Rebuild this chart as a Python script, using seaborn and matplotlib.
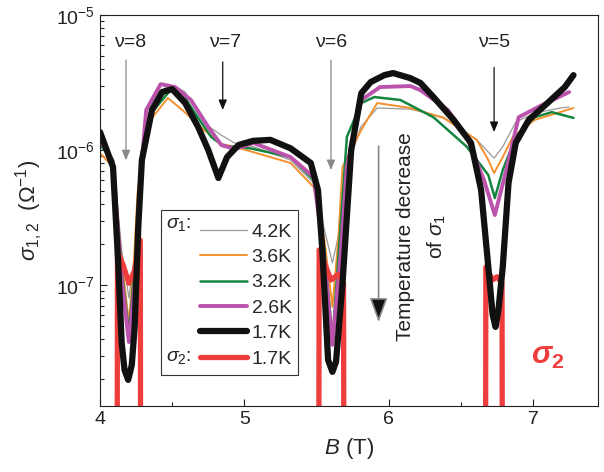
import numpy as np
import pandas as pd
import seaborn as sns
import matplotlib.pyplot as plt
from matplotlib.patches import Rectangle
from matplotlib.ticker import MultipleLocator, LogLocator, NullFormatter

# ===============================
# DATA (sigma in units of 1e-6 Ohm^-1)
# ===============================
b_42 = [4.00, 4.09, 4.15, 4.20, 4.245, 4.29, 4.36, 4.45, 4.53, 4.59, 4.72, 4.84, 4.93,
        5.06, 5.32, 5.48, 5.555, 5.61, 5.66, 5.715, 5.806, 5.92, 6.15, 6.38, 6.61,
        6.69, 6.73, 6.79, 6.88, 7.01, 7.19, 7.25]
s_42 = [1.13, 0.87, 0.182, 0.080, 0.182, 0.843, 1.98, 2.88, 2.93, 2.69, 1.58, 1.29, 1.13,
        1.06, 0.843, 0.570, 0.255, 0.146, 0.255, 0.749, 1.48, 2.05, 2.01, 1.75, 1.19,
        0.966, 0.87, 1.06, 1.61, 1.88, 2.05, 2.08]

b_36 = [4.00, 4.09, 4.15, 4.20, 4.235, 4.26, 4.29, 4.36, 4.47, 4.57, 4.72, 4.84, 4.93,
        5.06, 5.32, 5.48, 5.555, 5.61, 5.65, 5.68, 5.81, 5.92, 6.15, 6.38, 6.61,
        6.69, 6.73, 6.79, 6.86, 7.01, 7.28]
s_36 = [0.95, 0.749, 0.153, 0.0524, 0.153, 0.48, 0.843, 1.73, 2.43, 1.98, 1.41, 1.11, 1.06,
        0.966, 0.802, 0.532, 0.215, 0.0687, 0.215, 0.749, 1.41, 2.23, 2.05, 1.73, 1.19,
        0.843, 0.676, 0.887, 1.25, 1.67, 2.05]

b_32 = [4.00, 4.09, 4.15, 4.20, 4.245, 4.29, 4.36, 4.50, 4.59, 4.68, 4.77, 4.86, 4.96,
        5.06, 5.32, 5.48, 5.555, 5.61, 5.655, 5.71, 5.81, 5.90, 6.08, 6.15, 6.31,
        6.54, 6.69, 6.735, 6.79, 6.88, 7.01, 7.13, 7.28]
s_32 = [1.09, 0.843, 0.129, 0.0441, 0.153, 0.843, 1.91, 2.88, 2.43, 1.73, 1.25, 1.06, 1.06,
        1.02, 0.887, 0.600, 0.182, 0.0391, 0.182, 1.25, 2.23, 2.47, 2.35, 2.15, 1.75,
        1.06, 0.653, 0.441, 0.711, 1.25, 1.75, 1.91, 1.73]

b_26 = [4.00, 4.09, 4.15, 4.20, 4.25, 4.28, 4.32, 4.42, 4.52, 4.63, 4.75, 4.84, 4.93,
        5.00, 5.06, 5.32, 5.48, 5.555, 5.61, 5.67, 5.71, 5.81, 5.94, 6.15, 6.22,
        6.41, 6.54, 6.66, 6.735, 6.82, 6.90, 7.06, 7.25]
s_26 = [1.19, 0.815, 0.109, 0.0378, 0.129, 0.631, 1.98, 3.08, 2.93, 2.35, 1.48, 1.09, 1.02,
        1.07, 1.13, 0.887, 0.631, 0.153, 0.036, 0.182, 0.749, 2.35, 2.93, 2.98, 2.78,
        1.98, 1.25, 0.600, 0.330, 0.749, 1.75, 2.15, 2.69]

b_17 = [4.00, 4.09, 4.125, 4.15, 4.17, 4.195, 4.22, 4.24, 4.265, 4.29, 4.36, 4.43, 4.50,
        4.59, 4.68, 4.75, 4.82, 4.88, 4.96, 5.06, 5.18, 5.32, 5.46, 5.51, 5.54,
        5.58, 5.61, 5.635, 5.68, 5.74, 5.81, 5.875, 5.97, 6.03, 6.15, 6.22, 6.31,
        6.45, 6.57, 6.64, 6.69, 6.72, 6.74, 6.76, 6.79, 6.83, 6.88, 6.97, 7.10,
        7.22, 7.28]
s_17 = [1.36, 0.749, 0.153, 0.0372, 0.0234, 0.0198, 0.0255, 0.0489, 0.269, 0.843, 1.98, 2.69, 2.83,
        2.23, 1.48, 1.00, 0.621, 0.887, 1.09, 1.17, 1.19, 1.03, 0.802, 0.506, 0.182,
        0.0278, 0.0227, 0.027, 0.103, 1.00, 2.64, 3.19, 3.59, 3.72, 3.41, 3.14, 2.47,
        1.67, 1.13, 0.506, 0.136, 0.060, 0.0489, 0.0653, 0.136, 0.570, 1.13, 1.67, 2.23,
        2.93, 3.59]

# sigma_2 at 1.7K: narrow peaks around each minimum, vanishing elsewhere
b_s2 = [4.118, 4.121, 4.16, 4.20, 4.24, 4.279, 4.282,
        5.515, 5.518, 5.56, 5.60, 5.65, 5.687, 5.69,
        6.670, 6.673, 6.70, 6.72, 6.75, 6.785, 6.788]
s_s2 = [0.001, 0.176, 0.141, 0.103, 0.129, 0.215, 0.001,
        0.001, 0.182, 0.141, 0.109, 0.120, 0.103, 0.001,
        0.001, 0.136, 0.120, 0.109, 0.115, 0.103, 0.001]
peak_s2 = [1] * 7 + [2] * 7 + [3] * 7

temps = ["4.2K", "3.6K", "3.2K", "2.6K", "1.7K"]
curves = [(b_42, s_42), (b_36, s_36), (b_32, s_32), (b_26, s_26), (b_17, s_17)]
colors = ["#9a9a9a", "#f5902e", "#13853f", "#bb52ab", "#111111"]
widths = [0.9, 1.4, 1.8, 2.8, 4.5]
RED = "#ee3d3d"

# ===============================
# STYLE
# ===============================
sns.set_style("ticks")
plt.rcParams["font.family"] = ["Liberation Sans", "DejaVu Sans"]
plt.rcParams["mathtext.fontset"] = "custom"
plt.rcParams["mathtext.rm"] = "Liberation Sans"
plt.rcParams["mathtext.it"] = "Liberation Sans:italic"
plt.rcParams["mathtext.bf"] = "Liberation Sans:bold"
plt.rcParams["mathtext.bfit"] = "Liberation Sans:italic:bold"

fig = plt.figure(figsize=(6.04, 4.72), dpi=100)
ax = fig.add_axes([0.1656, 0.14, 0.8245, 0.828])

# ===============================
# PLOT
# ===============================
handles = []
for (bx, sy), lab, col, lw in zip(curves[:4], temps[:4], colors[:4], widths[:4]):
    df = pd.DataFrame({"B": bx, "sigma": np.array(sy) * 1e-6})
    sns.lineplot(data=df, x="B", y="sigma", ax=ax, color=col, linewidth=lw,
                 estimator=None, sort=False)
    handles.append(ax.lines[-1])

df_s2 = pd.DataFrame({"B": b_s2, "sigma": np.array(s_s2) * 1e-6, "peak": peak_s2})
sns.lineplot(data=df_s2, x="B", y="sigma", units="peak", ax=ax, color=RED,
             linewidth=3.8, estimator=None, sort=False)
red_line = ax.lines[-1]

df17 = pd.DataFrame({"B": b_17, "sigma": np.array(s_17) * 1e-6})
sns.lineplot(data=df17, x="B", y="sigma", ax=ax, color=colors[4], linewidth=widths[4],
             estimator=None, sort=False)
handles.append(ax.lines[-1])
handles.append(red_line)

ax.set_yscale("log")
ax.set_xlim(4, 7.45)
ax.set_ylim(1.27e-8, 1e-5)
ax.xaxis.set_major_locator(MultipleLocator(1))
ax.xaxis.set_minor_locator(MultipleLocator(0.5))
ax.yaxis.set_minor_locator(LogLocator(base=10, subs=np.arange(2, 10)))
ax.yaxis.set_minor_formatter(NullFormatter())
ax.tick_params(which="both", direction="in", labelsize=14, colors="#222222")
ax.tick_params(which="major", length=5, width=0.8)
ax.tick_params(which="minor", length=3, width=0.8)
for sp in ax.spines.values():
    sp.set_linewidth(0.8)
    sp.set_color("#222222")

ax.set_xlabel(r"$B$ (T)", fontsize=16, labelpad=6)
ax.set_ylabel(r"$\sigma_{1,2}$  ($\Omega^{-1}$)", fontsize=16, labelpad=8)

# ===============================
# ANNOTATIONS
# ===============================
nu_marks = [("ν=8", 4.21, 4.18, 4.64e-6, 8.4e-7, "#888888"),
            ("ν=7", 4.87, 4.85, 4.5e-6, 1.98e-6, "#111111"),
            ("ν=6", 5.60, 5.60, 4.64e-6, 7.1e-7, "#888888"),
            ("ν=5", 6.73, 6.73, 4.1e-6, 1.36e-6, "#111111")]
for txt, tx, axx, y0, y1, col in nu_marks:
    ax.text(tx, 6.3e-6, txt, fontsize=14, ha="center", va="center", color="#222222")
    ax.annotate("", xy=(axx, y1), xytext=(axx, y0),
                arrowprops=dict(arrowstyle="-|>,head_length=0.6,head_width=0.25",
                                lw=0.9, color=col, shrinkA=0, shrinkB=0))

ax.annotate("", xy=(5.93, 5.3e-8), xytext=(5.93, 1.07e-6),
            arrowprops=dict(arrowstyle="-|>,head_length=1.5,head_width=0.55",
                            lw=1.2, ec="#888888", fc="#111111", shrinkA=0, shrinkB=0))
ax.text(6.23, 2.3e-7, "Temperature decrease\n" + r"of $\sigma_1$", rotation=90,
        fontsize=15, ha="center", va="center", multialignment="center",
        linespacing=1.6, color="#222222")
ax.text(7.10, 3.0e-8, r"$\boldsymbol{\sigma}_\mathbf{2}$", fontsize=22, color=RED,
        ha="center", va="center")

# ===============================
# LEGEND (manual frame with sigma prefixes)
# ===============================
ax.legend(handles, temps + ["1.7K"], loc="upper left", bbox_to_anchor=(0.201, 0.468),
          frameon=False, fontsize=14, handlelength=2.4, handletextpad=0.25,
          labelspacing=0.40, borderpad=0, borderaxespad=0)
ax.add_patch(Rectangle((0.1225, 0.079), 0.275, 0.422, transform=ax.transAxes,
                       fill=False, lw=0.8, ec="#333333", zorder=5))
ax.text(0.133, 0.463, r"$\sigma_1$:", transform=ax.transAxes, fontsize=14,
        va="center", ha="left", color="#222222")
ax.text(0.133, 0.125, r"$\sigma_2$:", transform=ax.transAxes, fontsize=14,
        va="center", ha="left", color="#222222")

fig.savefig("out.png", dpi=100)
